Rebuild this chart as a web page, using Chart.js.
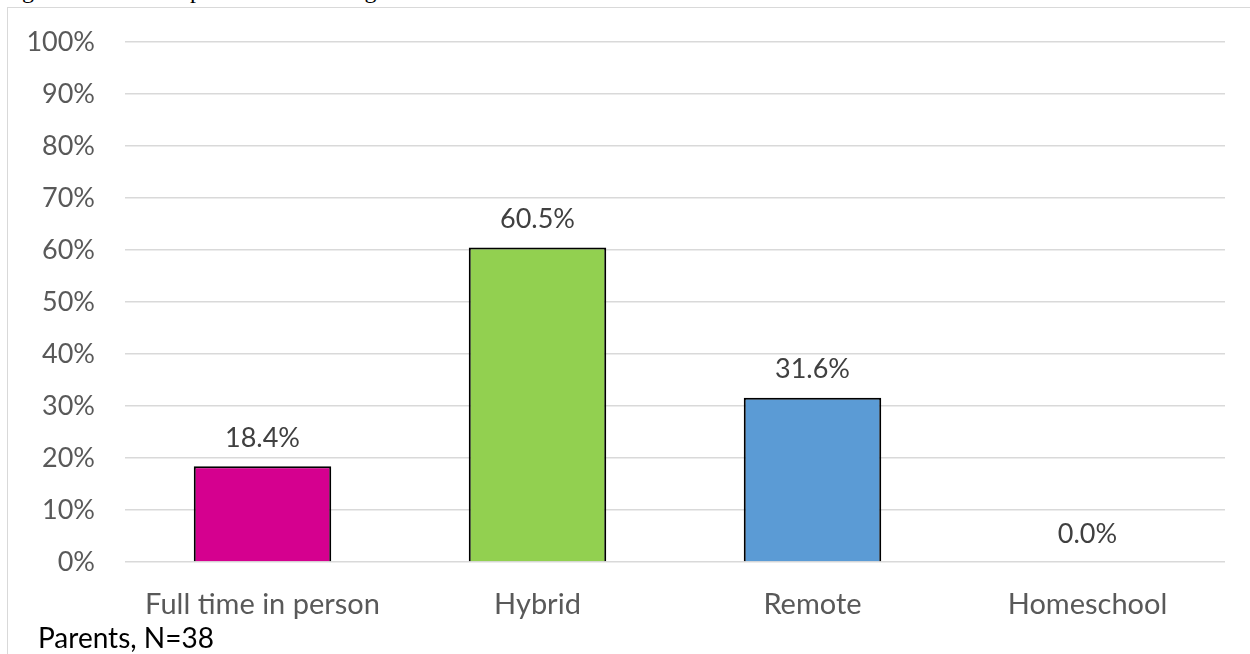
<!DOCTYPE html>
<html>
<head>
<meta charset="utf-8">
<script src="https://cdn.jsdelivr.net/npm/chart.js@4.4.0/dist/chart.umd.min.js"></script>
<style>
  html, body { margin: 0; padding: 0; background: #fff; overflow: hidden; }
  body { width: 1250px; height: 654px; position: relative; }
  #title {
    position: absolute; left: 2px; top: -23px;
    font-family: "Liberation Serif", serif; font-size: 24px; color: #000;
    white-space: nowrap;
  }
  #frame {
    position: absolute; left: 7px; top: 7px; width: 1300px; height: 700px;
    border-left: 1px solid #d9d9d9; border-top: 1px solid #d9d9d9;
  }
  #chartBox { position: absolute; left: 8px; top: 8px; width: 1242px; height: 646px; }
  #note {
    position: absolute; left: 38px; top: 620px;
    font-family: Lato, sans-serif; font-size: 28px; color: #000;
  }
</style>
</head>
<body>
<div id="title">Figure 3. Parent responses for teaching model at school</div>
<div id="frame"></div>
<div id="chartBox"><canvas id="teachChart"></canvas></div>
<div id="note">Parents, N=38</div>

<script>
/* ------------------------------------------------------------------ */
/*  Data                                                              */
/* ------------------------------------------------------------------ */

var CATEGORIES = ['Full time in person', 'Hybrid', 'Remote', 'Homeschool'];
var VALUES = [18.4, 60.5, 31.6, 0.0];
var BAR_COLORS = ['#d5008f', '#92d050', '#5b9bd5', '#a5a5a5'];
var Y_TICKS = [0, 10, 20, 30, 40, 50, 60, 70, 80, 90, 100];

var FONT = 'Lato, sans-serif';

/* ------------------------------------------------------------------ */
/*  Value labels above bars                                           */
/* ------------------------------------------------------------------ */

var valueLabels = {
  id: 'valueLabels',
  afterDatasetsDraw: function (chart) {
    var ctx = chart.ctx;
    var meta = chart.getDatasetMeta(0);
    ctx.save();
    ctx.font = '27px ' + FONT;
    ctx.fillStyle = '#404040';
    ctx.textAlign = 'center';
    ctx.textBaseline = 'middle';
    meta.data.forEach(function (bar, i) {
      ctx.fillText(VALUES[i].toFixed(1) + '%', bar.x, bar.y - 28);
    });
    ctx.restore();
  },
};

/* ------------------------------------------------------------------ */
/*  Chart                                                             */
/* ------------------------------------------------------------------ */

new Chart(document.getElementById('teachChart').getContext('2d'), {
  type: 'bar',
  data: {
    labels: CATEGORIES,
    datasets: [{
      data: VALUES,
      backgroundColor: BAR_COLORS,
      borderColor: '#000',
      borderWidth: 2,
      borderSkipped: 'bottom',
      categoryPercentage: 1.0,
      barPercentage: 0.5,
    }],
  },
  options: {
    responsive: true,
    maintainAspectRatio: false,
    animation: false,
    layout: { padding: { top: 34, right: 25, left: 0, bottom: 0 } },
    scales: {
      x: {
        grid: { display: false },
        border: { display: false },
        ticks: {
          color: '#595959',
          font: { family: FONT, size: 29 },
          padding: 17,
          maxRotation: 0,
        },
        afterFit: function (scale) {
          scale.height = 92;
          scale.paddingLeft = 0;
          scale.paddingRight = 0;
        },
      },
      y: {
        min: 0,
        max: 100,
        afterBuildTicks: function (scale) {
          scale.ticks = Y_TICKS.map(function (v) { return { value: v }; });
        },
        grid: { color: '#d9d9d9', lineWidth: 1.5, drawTicks: false },
        border: { display: false },
        ticks: {
          color: '#595959',
          font: { family: FONT, size: 27 },
          padding: 30,
          callback: function (v) { return v + '%'; },
        },
        afterFit: function (scale) {
          scale.width = 117;
          scale.paddingTop = 0;
          scale.paddingBottom = 0;
        },
      },
    },
    plugins: {
      legend: { display: false },
      tooltip: { enabled: false },
    },
  },
  plugins: [valueLabels],
});
</script>
</body>
</html>
